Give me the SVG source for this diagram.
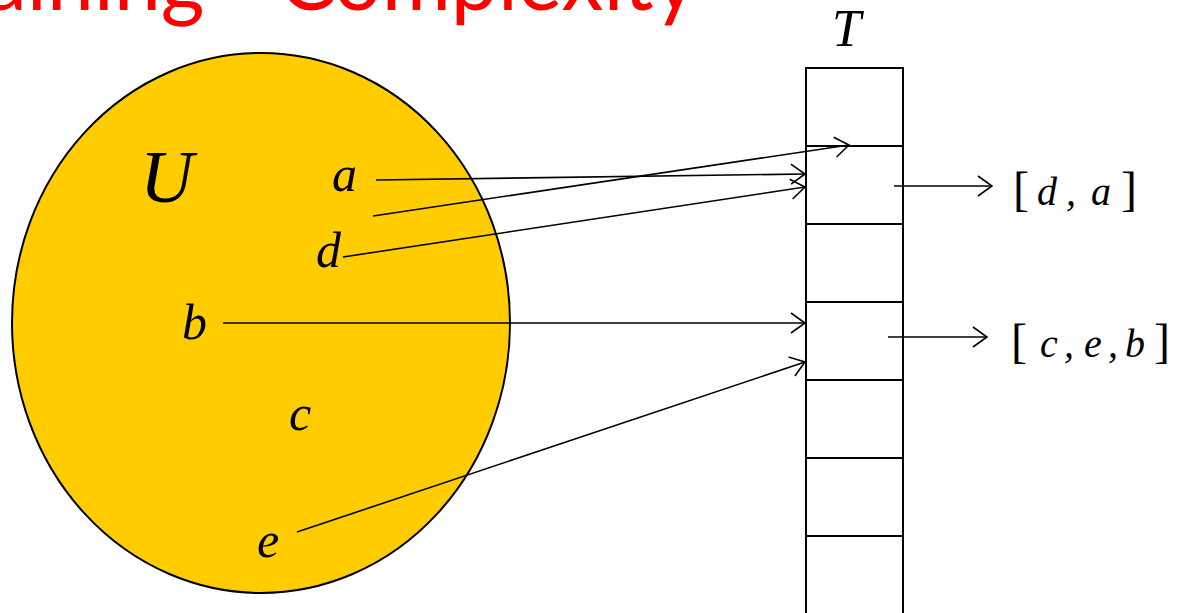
<svg xmlns="http://www.w3.org/2000/svg" width="1184" height="613" viewBox="0 0 1184 613">
<style>
.title{font-family:Lato,"Liberation Sans",sans-serif;font-size:88px;fill:#FF0000}
.m{font-family:"Liberation Serif","Times New Roman",serif;font-style:italic;fill:#000}
.br{font-family:"Liberation Serif","Times New Roman",serif;font-style:normal;fill:#000}
.cell{fill:#fff;stroke:#000;stroke-width:2}
.conn{stroke:#000;stroke-width:1.6;fill:none;marker-end:url(#arr)}
</style>
<defs>
<marker id="arr" markerUnits="userSpaceOnUse" viewBox="0 0 16 22" refX="15" refY="11" markerWidth="16" markerHeight="22" orient="auto">
<path d="M1,1 L15,11 L1,21" fill="none" stroke="#000" stroke-width="1.6"/>
</marker>
</defs>
<rect width="1184" height="613" fill="#fff"/>
<text class="title" x="-118" y="10" textLength="815" lengthAdjust="spacingAndGlyphs">Chaining - Complexity</text>

<g id="universe">
<ellipse cx="261" cy="323" rx="249" ry="270" fill="#FFCC00" stroke="#000" stroke-width="2"/>
<text class="m" x="140" y="202" font-size="74">U</text>
<text class="m" x="332" y="191" font-size="50">a</text>
<text class="m" x="316" y="267" font-size="50">d</text>
<text class="m" x="182" y="339" font-size="50">b</text>
<text class="m" x="289" y="430" font-size="50">c</text>
<text class="m" x="257" y="557" font-size="50">e</text>
</g>

<g id="table">
<text class="m" x="832" y="46" font-size="52">T</text>
<rect class="cell" x="806" y="68" width="97" height="546"/>
<line x1="806" y1="146" x2="903" y2="146" stroke="#000" stroke-width="2"/>
<line x1="806" y1="224" x2="903" y2="224" stroke="#000" stroke-width="2"/>
<line x1="806" y1="302" x2="903" y2="302" stroke="#000" stroke-width="2"/>
<line x1="806" y1="380" x2="903" y2="380" stroke="#000" stroke-width="2"/>
<line x1="806" y1="458" x2="903" y2="458" stroke="#000" stroke-width="2"/>
<line x1="806" y1="536" x2="903" y2="536" stroke="#000" stroke-width="2"/>
</g>

<g id="list1">
<text x="1013" y="205"><tspan class="br" font-size="48">[</tspan><tspan class="m" font-size="40" x="1037">d</tspan><tspan class="m" font-size="40" x="1066">,</tspan><tspan class="m" font-size="40" x="1091">a</tspan><tspan class="br" font-size="48" x="1121">]</tspan></text>
</g>
<g id="list2">
<text x="1011" y="357"><tspan class="br" font-size="48">[</tspan><tspan class="m" font-size="40" x="1040">c</tspan><tspan class="m" font-size="40" x="1064">,</tspan><tspan class="m" font-size="40" x="1084">e</tspan><tspan class="m" font-size="40" x="1108">,</tspan><tspan class="m" font-size="40" x="1125">b</tspan><tspan class="br" font-size="48" x="1154">]</tspan></text>
</g>

<g id="connectors">
<line class="conn" x1="376" y1="180" x2="805" y2="174"/>
<line class="conn" x1="373" y1="216" x2="849" y2="145"/>
<line class="conn" x1="343" y1="257" x2="805" y2="187"/>
<line class="conn" x1="223" y1="323" x2="805" y2="323"/>
<line class="conn" x1="297" y1="532" x2="805" y2="362"/>
<line class="conn" x1="894" y1="186" x2="992" y2="186"/>
<line class="conn" x1="888" y1="337" x2="987" y2="337"/>
</g>
</svg>
